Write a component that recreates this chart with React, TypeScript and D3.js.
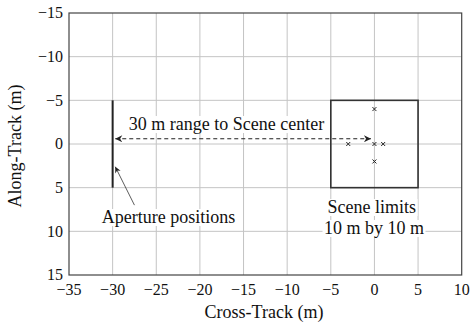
import React, { useEffect, useRef } from "react";
import * as d3 from "d3";

const xTicks = [-35, -30, -25, -20, -15, -10, -5, 0, 5, 10];
const yTicks = [-15, -10, -5, 0, 5, 10, 15];
const xDomain = [-35, 10];
const yDomain = [-15, 15];
const scenePoints = [
  { x: 0, y: -4 },
  { x: -3, y: 0 },
  { x: 0, y: 0 },
  { x: 1, y: 0 },
  { x: 0, y: 2 },
];
const apertureX = -30;
const apertureY = [-5, 5];
const sceneBox = { x0: -5, x1: 5, y0: -5, y1: 5 };
const rangeArrow = { x0: -29.7, x1: -0.4, y: -0.6 };
const apertureArrow = { x0: -27.5, y0: 7, x1: -29.7, y1: 2.6 };
const labels = [
  { text: "30 m range to Scene center", x: -16.95, y: -1.6 },
  { text: "Aperture positions", x: -23.6, y: 9.05 },
  { text: "Scene limits", x: -0.3, y: 7.9 },
  { text: "10 m by 10 m", x: -0.05, y: 10.3 },
];

const FONT = "Liberation Serif";
const INK = "#111";

export default function App() {
  const ref = useRef<SVGSVGElement>(null);
  useEffect(() => {
    const svg = d3.select(ref.current);
    svg.selectAll("*").remove();
    const x = d3.scaleLinear().domain(xDomain).range([69, 461.7]);
    const y = d3.scaleLinear().domain(yDomain).range([13, 275]);

    const defs = svg.append("defs");
    defs
      .append("marker")
      .attr("id", "ah")
      .attr("viewBox", "0 0 10 10")
      .attr("refX", 10)
      .attr("refY", 5)
      .attr("markerWidth", 10)
      .attr("markerHeight", 7)
      .attr("markerUnits", "userSpaceOnUse")
      .attr("orient", "auto-start-reverse")
      .append("path")
      .attr("d", "M0,0 L10,5 L0,10 L3,5 Z")
      .attr("fill", "#222");
    defs
      .append("marker")
      .attr("id", "ah2")
      .attr("viewBox", "0 0 10 10")
      .attr("refX", 10)
      .attr("refY", 5)
      .attr("markerWidth", 8)
      .attr("markerHeight", 6)
      .attr("markerUnits", "userSpaceOnUse")
      .attr("orient", "auto")
      .append("path")
      .attr("d", "M0,0 L10,5 L0,10 L3,5 Z")
      .attr("fill", "#222");

    svg.append("rect").attr("width", 470).attr("height", 322).attr("fill", "#fff");

    const g = svg.append("g");
    g.selectAll("line.gx")
      .data(xTicks.slice(1, -1))
      .enter()
      .append("line")
      .attr("x1", (d) => x(d))
      .attr("x2", (d) => x(d))
      .attr("y1", y(-15))
      .attr("y2", y(15))
      .attr("stroke", "#c4c4c4")
      .attr("stroke-width", 1);
    g.selectAll("line.gy")
      .data(yTicks.slice(1, -1))
      .enter()
      .append("line")
      .attr("x1", x(-35))
      .attr("x2", x(10))
      .attr("y1", (d) => y(d))
      .attr("y2", (d) => y(d))
      .attr("stroke", "#c4c4c4")
      .attr("stroke-width", 1);

    g.append("rect")
      .attr("x", x(-35))
      .attr("y", y(-15))
      .attr("width", x(10) - x(-35))
      .attr("height", y(15) - y(-15))
      .attr("fill", "none")
      .attr("stroke", "#444")
      .attr("stroke-width", 1.2);

    const fmt = (d: number) => (d < 0 ? "\u2212" + Math.abs(d) : String(d));
    g.selectAll("text.xt")
      .data(xTicks)
      .enter()
      .append("text")
      .attr("x", (d) => x(d))
      .attr("y", 295)
      .attr("text-anchor", "middle")
      .attr("font-family", FONT)
      .attr("font-size", 16)
      .attr("fill", INK)
      .text(fmt);
    g.selectAll("text.yt")
      .data(yTicks)
      .enter()
      .append("text")
      .attr("x", 63)
      .attr("y", (d) => y(d) + 5.2)
      .attr("text-anchor", "end")
      .attr("font-family", FONT)
      .attr("font-size", 16)
      .attr("fill", INK)
      .text(fmt);

    g.append("text")
      .attr("x", 264)
      .attr("y", 318)
      .attr("text-anchor", "middle")
      .attr("font-family", FONT)
      .attr("font-size", 18)
      .attr("fill", INK)
      .text("Cross-Track (m)");
    g.append("text")
      .attr("transform", "translate(21,146) rotate(-90)")
      .attr("text-anchor", "middle")
      .attr("font-family", FONT)
      .attr("font-size", 18)
      .attr("fill", INK)
      .text("Along-Track (m)");

    g.append("rect")
      .attr("x", x(sceneBox.x0))
      .attr("y", y(sceneBox.y0))
      .attr("width", x(sceneBox.x1) - x(sceneBox.x0))
      .attr("height", y(sceneBox.y1) - y(sceneBox.y0))
      .attr("fill", "none")
      .attr("stroke", "#333")
      .attr("stroke-width", 1.6);

    g.append("line")
      .attr("x1", x(apertureX))
      .attr("x2", x(apertureX))
      .attr("y1", y(apertureY[0]))
      .attr("y2", y(apertureY[1]))
      .attr("stroke", "#222")
      .attr("stroke-width", 2);

    const sym = d3.symbol().type(d3.symbolX).size(12);
    g.selectAll("path.pt")
      .data(scenePoints)
      .enter()
      .append("path")
      .attr("d", sym)
      .attr("transform", (d) => `translate(${x(d.x)},${y(d.y)})`)
      .attr("fill", "none")
      .attr("stroke", "#222")
      .attr("stroke-width", 1);

    labels.forEach((l) => {
      const t = g
        .append("text")
        .attr("x", x(l.x))
        .attr("y", y(l.y))
        .attr("text-anchor", "middle")
        .attr("font-family", FONT)
        .attr("font-size", 18)
        .attr("fill", INK)
        .text(l.text);
      const bb = (t.node() as SVGTextElement).getBBox();
      g.insert("rect", () => t.node() as any)
        .attr("x", bb.x - 1.5)
        .attr("y", bb.y + 2)
        .attr("width", bb.width + 3)
        .attr("height", bb.height - 3)
        .attr("fill", "#fff");
    });

    g.append("line")
      .attr("x1", x(rangeArrow.x0))
      .attr("x2", x(rangeArrow.x1))
      .attr("y1", y(rangeArrow.y))
      .attr("y2", y(rangeArrow.y))
      .attr("stroke", "#222")
      .attr("stroke-width", 1.2)
      .attr("stroke-dasharray", "4,3")
      .attr("marker-start", "url(#ah)")
      .attr("marker-end", "url(#ah)");

    g.append("line")
      .attr("x1", x(apertureArrow.x0))
      .attr("y1", y(apertureArrow.y0))
      .attr("x2", x(apertureArrow.x1))
      .attr("y2", y(apertureArrow.y1))
      .attr("stroke", "#333")
      .attr("stroke-width", 0.8)
      .attr("marker-end", "url(#ah2)");
  }, []);
  return (
    <svg
      ref={ref}
      width={470}
      height={322}
      style={{ position: "absolute", left: 0, top: 0 }}
    />
  );
}
